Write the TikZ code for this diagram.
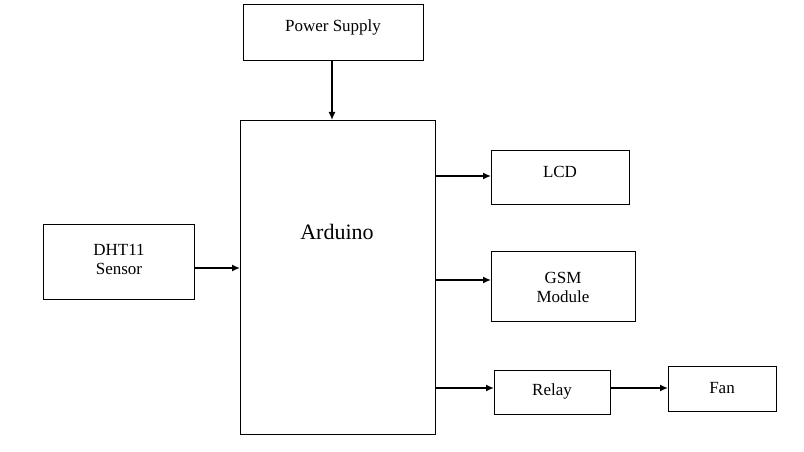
\documentclass[tikz,border=0pt]{standalone}
\usepackage{fontspec}
\setmainfont{Liberation Serif}
\usetikzlibrary{arrows.meta}
\begin{document}
\begin{tikzpicture}[x=1pt,y=-1pt,
  blk/.style={draw,line width=0.8pt,inner sep=0pt,anchor=north west},
  lbl/.style={font=\fontsize{17}{19}\selectfont,align=center,inner sep=0pt},
  arr/.style={-{Latex[length=8pt,width=7pt]},line width=1.5pt}]
\useasboundingbox (0,0) rectangle (804,452);
\node[blk,minimum width=180pt,minimum height=56pt] (ps) at (243,4) {};
\node[lbl] (pst) at (333,27) {Power Supply};
\node[blk,minimum width=195pt,minimum height=314pt] (ard) at (240,120) {};
\node[lbl,font=\fontsize{22}{24}\selectfont] (ardt) at (337,232) {Arduino};
\node[blk,minimum width=138pt,minimum height=54pt] (lcd) at (491,150) {};
\node[lbl] (lcdt) at (560,172) {LCD};
\node[blk,minimum width=144pt,minimum height=70pt] (gsm) at (491,251) {};
\node[lbl] (gsmt) at (563,287) {GSM\\Module};
\node[blk,minimum width=116pt,minimum height=44pt] (rel) at (494,370) {};
\node[lbl] (relt) at (552,391) {Relay};
\node[blk,minimum width=108pt,minimum height=45pt] (fan) at (668,366) {};
\node[lbl] (fant) at (722,388) {Fan};
\node[blk,minimum width=151pt,minimum height=75pt] (dht) at (43,224) {};
\node[lbl] (dhtt) at (119,259) {DHT11\\Sensor};
\draw[arr] (ps.south -| 332,0) -- (ard.north -| 332,0);
\draw[arr] (dht.east |- 0,268) -- (ard.west |- 0,268);
\draw[arr] (ard.east |- 0,176) -- (lcd.west |- 0,176);
\draw[arr] (ard.east |- 0,280) -- (gsm.west |- 0,280);
\draw[arr] (ard.east |- 0,388) -- (rel.west |- 0,388);
\draw[arr] (rel.east |- 0,388) -- (fan.west |- 0,388);
\end{tikzpicture}
\end{document}
